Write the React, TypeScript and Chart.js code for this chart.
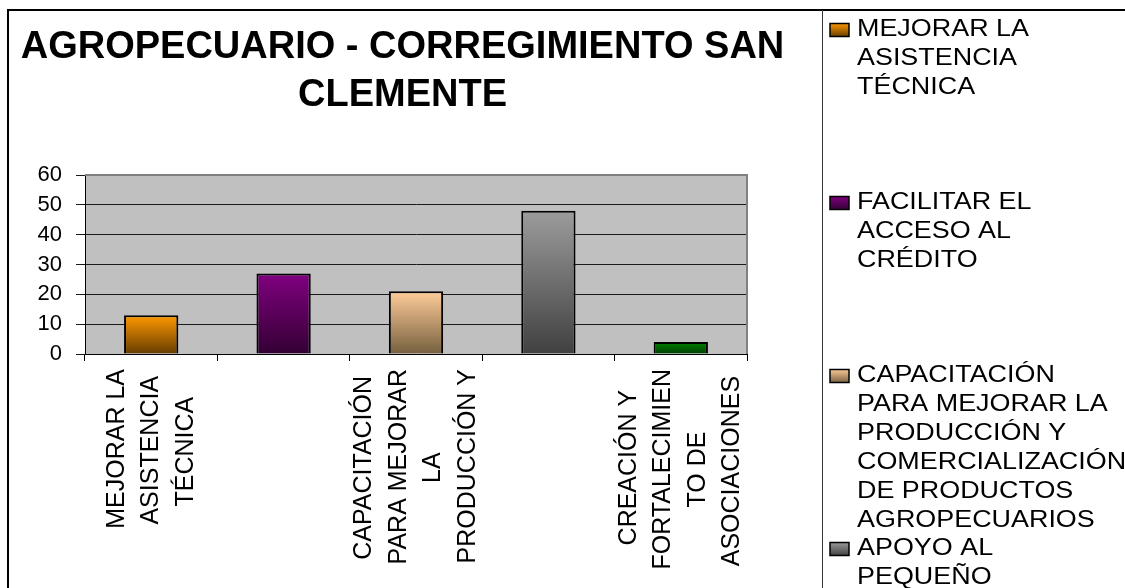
import React, { useEffect, useRef } from "react";
import { Chart, registerables } from "chart.js";

Chart.register(...registerables);

// ---------- data ----------
const categories = [
  "MEJORAR LA ASISTENCIA TÉCNICA",
  "FACILITAR EL ACCESO AL CRÉDITO",
  "CAPACITACIÓN PARA MEJORAR LA PRODUCCIÓN Y COMERCIALIZACIÓN DE PRODUCTOS AGROPECUARIOS",
  "APOYO AL PEQUEÑO PRODUCTOR",
  "CREACIÓN Y FORTALECIMIENTO DE ASOCIACIONES",
];
const values = [13, 27, 21, 48, 4];
const axisLabelLines = [
  ["MEJORAR LA", "ASISTENCIA", "TÉCNICA"],
  [],
  ["CAPACITACIÓN", "PARA MEJORAR", "LA", "PRODUCCIÓN Y"],
  [],
  ["CREACIÓN Y", "FORTALECIMIEN", "TO DE", "ASOCIACIONES"],
];
const legendLines = [
  ["MEJORAR LA", "ASISTENCIA", "TÉCNICA"],
  ["FACILITAR EL", "ACCESO AL", "CRÉDITO"],
  ["CAPACITACIÓN", "PARA MEJORAR LA", "PRODUCCIÓN Y", "COMERCIALIZACIÓN", "DE PRODUCTOS", "AGROPECUARIOS"],
  ["APOYO AL", "PEQUEÑO", "PRODUCTOR"],
  ["CREACIÓN Y", "FORTALECIMIENTO", "DE ASOCIACIONES"],
];
const topColors = ["#FF9A00", "#800080", "#FFCC99", "#9C9C9C", "#008000"];
const bottomColors = ["#663C00", "#330033", "#75603F", "#404040", "#004000"];
const titleLines = ["AGROPECUARIO - CORREGIMIENTO SAN", "CLEMENTE"];
const yMin = 0;
const yMax = 60;
const yStep = 10;

// ---------- styling constants ----------
const FONT = '"Liberation Sans", Arial, Helvetica, sans-serif';
const X_FONT_SIZE = 25;
const X_LINE_H = 34.5;
const LEGEND_FONT_SIZE = 23;
const LEGEND_FIRST_Y = 30;
const LEGEND_SLOT = 173;
const LEGEND_LINE_H = 29;
const LEGEND_MARK_X = 830;
const LEGEND_TEXT_X = 857;

// pad shorter lines with trailing spaces so that the rotated lines look centred on each other
function centerLines(lines: string[]): string[] {
  if (!lines.length) return lines;
  const c = document.createElement("canvas").getContext("2d");
  if (!c) return lines;
  c.font = `${X_FONT_SIZE}px ${FONT}`;
  const widths = lines.map((l) => c.measureText(l).width);
  const maxW = Math.max(...widths);
  const sp = c.measureText(" ").width || 7;
  return lines.map((l, k) => l + " ".repeat(Math.max(0, Math.round((maxW - widths[k]) / 2 / sp))));
}

function barGradient(chart: any, i: number) {
  const yScale = chart.scales && chart.scales.y;
  if (!chart.chartArea || !yScale || i === undefined || i === null) return topColors[i] || "#999";
  const top = yScale.getPixelForValue(values[i]);
  const bottom = yScale.getPixelForValue(0);
  if (!isFinite(top) || !isFinite(bottom) || top === bottom) return topColors[i];
  const g = chart.ctx.createLinearGradient(0, top, 0, bottom);
  g.addColorStop(0, topColors[i]);
  g.addColorStop(1, bottomColors[i]);
  return g;
}

const framePlugin = {
  id: "frame",
  beforeDraw(chart: any) {
    const { ctx, chartArea, width, height } = chart;
    ctx.save();
    ctx.fillStyle = "#ffffff";
    ctx.fillRect(0, 0, width, height);
    ctx.fillStyle = "#C0C0C0";
    ctx.fillRect(chartArea.left, chartArea.top, chartArea.right - chartArea.left, chartArea.bottom - chartArea.top);
    ctx.strokeStyle = "#000";
    ctx.lineWidth = 2;
    ctx.beginPath();
    ctx.moveTo(8, height);
    ctx.lineTo(8, 10);
    ctx.lineTo(width, 10);
    ctx.stroke();
    ctx.lineWidth = 1;
    ctx.strokeStyle = "#333";
    ctx.beginPath();
    ctx.moveTo(822.5, 10);
    ctx.lineTo(822.5, height);
    ctx.stroke();
    ctx.restore();
  },
  beforeDatasetsDraw(chart: any) {
    const { ctx, chartArea } = chart;
    ctx.save();
    ctx.strokeStyle = "#808080";
    ctx.lineWidth = 2;
    ctx.beginPath();
    ctx.moveTo(chartArea.left, chartArea.top);
    ctx.lineTo(chartArea.right, chartArea.top);
    ctx.lineTo(chartArea.right, chartArea.bottom);
    ctx.stroke();
    ctx.restore();
  },
};

const sideLegend = {
  id: "sideLegend",
  afterDraw(chart: any) {
    const { ctx } = chart;
    ctx.save();
    ctx.font = `${LEGEND_FONT_SIZE}px ${FONT}`;
    ctx.textBaseline = "middle";
    ctx.textAlign = "left";
    legendLines.forEach((lines, i) => {
      const cy = LEGEND_FIRST_Y + i * LEGEND_SLOT;
      const g = ctx.createLinearGradient(0, cy - 7, 0, cy + 7);
      g.addColorStop(0, topColors[i]);
      g.addColorStop(1, bottomColors[i]);
      ctx.fillStyle = g;
      ctx.fillRect(LEGEND_MARK_X, cy - 6.5, 19, 13);
      ctx.strokeStyle = "#000";
      ctx.lineWidth = 1.5;
      ctx.strokeRect(LEGEND_MARK_X, cy - 6.5, 19, 13);
      ctx.fillStyle = "#000";
      lines.forEach((t, k) => {
        ctx.save();
        ctx.translate(LEGEND_TEXT_X, cy + k * LEGEND_LINE_H);
        ctx.scale(1.17, 1);
        ctx.fillText(t, 0, 0);
        ctx.restore();
      });
    });
    ctx.restore();
  },
};

const xTickFont = { family: FONT, size: X_FONT_SIZE, lineHeight: X_LINE_H / X_FONT_SIZE };

export default function App() {
  const canvasRef = useRef<HTMLCanvasElement | null>(null);

  useEffect(() => {
    if (!canvasRef.current) return;
    Chart.defaults.font.family = FONT;
    const shownLabels = axisLabelLines.map(centerLines);
    const chart = new Chart(canvasRef.current, {
      type: "bar",
      data: {
        labels: categories,
        datasets: [
          {
            label: "AGROPECUARIO",
            data: values,
            backgroundColor: (c: any) => barGradient(c.chart, c.dataIndex),
            borderColor: "#000",
            borderWidth: 2,
            barPercentage: 0.41,
            categoryPercentage: 1,
            xAxisID: "x",
            yAxisID: "y",
          },
        ],
      },
      options: {
        animation: false,
        responsive: true,
        maintainAspectRatio: false,
        devicePixelRatio: 1,
        layout: { padding: { left: 0, right: 320, top: 0, bottom: 0 } },
        plugins: {
          legend: { display: false },
          tooltip: { enabled: false },
          title: {
            display: true,
            text: titleLines,
            color: "#000",
            font: { family: FONT, size: 38, weight: "bold", lineHeight: 48 / 38 },
            padding: { top: 24, bottom: 55 },
          },
        },
        scales: {
          x: {
            type: "category",
            position: "bottom",
            offset: true,
            grid: {
              display: true,
              offset: true,
              drawOnChartArea: false,
              drawTicks: true,
              tickLength: 7,
              color: "#000",
            },
            border: { display: true, color: "#000", width: 1 },
            ticks: {
              autoSkip: false,
              minRotation: 90,
              maxRotation: 90,
              padding: 8,
              labelOffset: -1.5 * X_LINE_H,
              color: "#000",
              font: xTickFont,
              callback: (_v: any, i: number) => (axisLabelLines[i].length === 4 ? shownLabels[i] : ""),
            },
            afterFit: (s: any) => {
              s.height = 234;
            },
          },
          x2: {
            type: "category",
            axis: "x",
            position: { y: 0 },
            offset: true,
            grid: {
              display: true,
              offset: true,
              drawOnChartArea: false,
              drawTicks: true,
              tickLength: 7,
              color: "rgba(0,0,0,0)",
            },
            border: { display: false },
            ticks: {
              autoSkip: false,
              minRotation: 90,
              maxRotation: 90,
              padding: 8,
              labelOffset: -1 * X_LINE_H,
              color: "#000",
              font: xTickFont,
              callback: (_v: any, i: number) => (axisLabelLines[i].length === 3 ? shownLabels[i] : ""),
            },
          },
          y: {
            type: "linear",
            position: "left",
            min: yMin,
            max: yMax,
            grid: {
              display: true,
              drawOnChartArea: true,
              drawTicks: true,
              tickLength: 9,
              color: "#1a1a1a",
              lineWidth: 1,
            },
            border: { display: true, color: "#000", width: 1 },
            ticks: {
              stepSize: yStep,
              padding: 14,
              color: "#000",
              font: { family: FONT, size: 22 },
            },
            afterFit: (s: any) => {
              s.width = 85;
            },
          },
          y2: {
            type: "linear",
            position: "right",
            display: true,
            grid: { display: false, drawTicks: false },
            border: { display: false },
            ticks: { display: false },
            afterFit: (s: any) => {
              s.width = 58;
            },
          },
        },
      } as any,
      plugins: [framePlugin, sideLegend],
    });
    return () => chart.destroy();
  }, []);

  return (
    <div style={{ position: "absolute", left: 0, top: 0, width: 1125, height: 588, background: "#fff" }}>
      <canvas ref={canvasRef} />
    </div>
  );
}
